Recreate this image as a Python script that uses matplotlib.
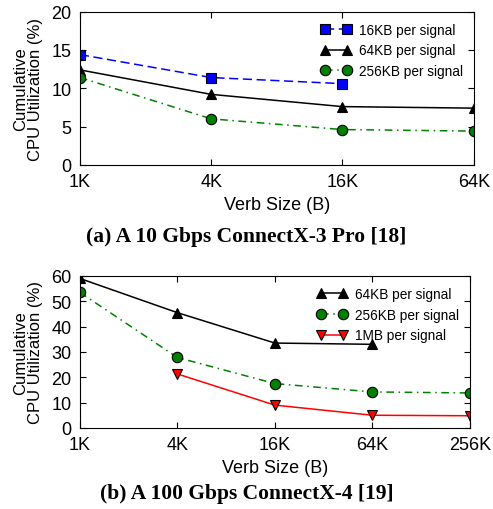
import numpy as np
import matplotlib
matplotlib.use("Agg")
from matplotlib import pyplot as plt

plt.rcParams['font.family'] = ['Liberation Sans', 'DejaVu Sans']

# ----------------- Data -----------------
# (a) 10 Gbps ConnectX-3 Pro
a_sizes = [1024, 4096, 16384, 65536]
a_labels = ['1K', '4K', '16K', '64K']
a_16kb = [14.4, 11.4, 10.6]
a_64kb = [12.4, 9.2, 7.6, 7.4]
a_256kb = [11.4, 6.0, 4.6, 4.4]

# (b) 100 Gbps ConnectX-4
b_sizes = [1024, 4096, 16384, 65536, 262144]
b_labels = ['1K', '4K', '16K', '64K', '256K']
b_64kb = [59.0, 45.5, 33.5, 33.0]
b_256kb = [53.5, 27.8, 17.5, 14.2, 13.8]
b_1mb_sizes = [4096, 16384, 65536, 262144]
b_1mb = [21.3, 9.0, 5.0, 4.8]

fig = plt.figure(figsize=(4.93, 5.10), dpi=100)
ax1 = fig.add_axes([0.162, 0.675, 0.799, 0.300])
ax2 = fig.add_axes([0.162, 0.159, 0.791, 0.298])

mk = dict(markersize=7.5, markeredgecolor='black', markeredgewidth=0.8)


def style(ax, sizes, labels, ymax, ystep):
    ax.set_xscale('log', base=2)
    ax.set_xlim(sizes[0], sizes[-1])
    ax.set_xticks(sizes)
    ax.set_xticklabels(labels)
    ax.minorticks_off()
    ax.set_ylim(0, ymax)
    ax.set_yticks(np.arange(0, ymax + 1, ystep))
    ax.tick_params(direction='in', top=True, right=True, labelsize=13, length=4, pad=6)
    ax.set_xlabel('Verb Size (B)', fontsize=13, labelpad=4)
    ax.set_ylabel('Cumulative\nCPU Utilization (%)', fontsize=12, linespacing=1.0, labelpad=6)
    for s in ax.spines.values():
        s.set_linewidth(0.8)
    ax.legend(loc='upper right', frameon=False, numpoints=2, fontsize=9.8,
              handlelength=2.2, borderaxespad=0.4, labelspacing=0.5, handletextpad=0.6)


# ----------------- Plot (a) -----------------
ax1.plot(a_sizes[:3], a_16kb, color='blue', linestyle=(0, (6, 3)), linewidth=1.1,
         marker='s', markerfacecolor='blue', label='16KB per signal', **mk)
ax1.plot(a_sizes, a_64kb, color='black', linestyle='-', linewidth=1.1,
         marker='^', markerfacecolor='black', label='64KB per signal', **mk)
ax1.plot(a_sizes, a_256kb, color='green', linestyle=(0, (5, 3, 1, 3)), linewidth=1.1,
         marker='o', markerfacecolor='green', label='256KB per signal', **mk)
style(ax1, a_sizes, a_labels, 20, 5)

# ----------------- Plot (b) -----------------
ax2.plot(b_sizes[:4], b_64kb, color='black', linestyle='-', linewidth=1.1,
         marker='^', markerfacecolor='black', label='64KB per signal', **mk)
ax2.plot(b_sizes, b_256kb, color='green', linestyle=(0, (5, 3, 1, 3)), linewidth=1.1,
         marker='o', markerfacecolor='green', label='256KB per signal', **mk)
ax2.plot(b_1mb_sizes, b_1mb, color='red', linestyle='-', linewidth=1.1,
         marker='v', markerfacecolor='red', label='1MB per signal', **mk)
style(ax2, b_sizes, b_labels, 60, 10)

# ----------------- Captions -----------------
cap = dict(ha='center', va='center', fontsize=15.5, fontweight='bold',
           family=['Liberation Serif', 'DejaVu Serif'])
fig.text(0.5, 1 - 237 / 510, '(a) A 10 Gbps ConnectX-3 Pro [18]', **cap)
fig.text(0.5, 1 - 494 / 510, '(b) A 100 Gbps ConnectX-4 [19]', **cap)

fig.savefig('out.png', dpi=100)
